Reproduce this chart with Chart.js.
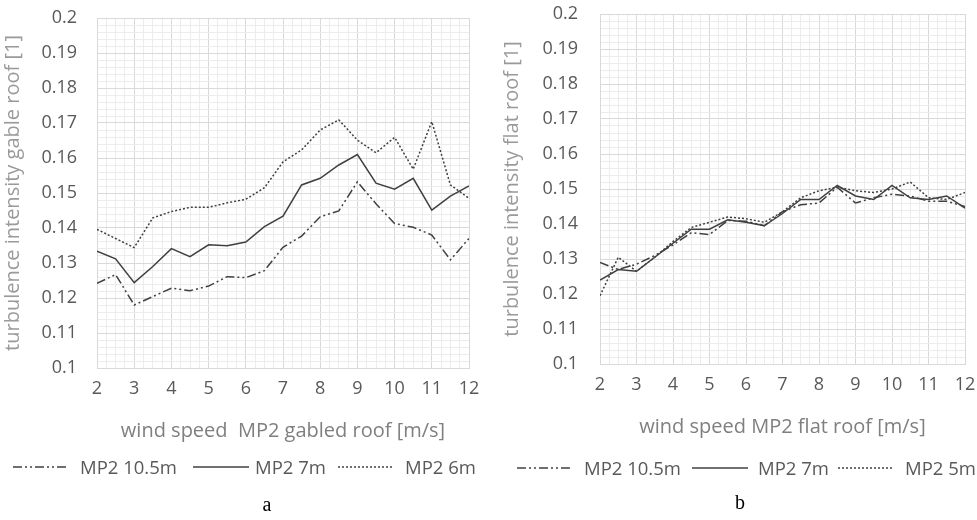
<!DOCTYPE html>
<html>
<head>
<meta charset="utf-8">
<script src="https://cdn.jsdelivr.net/npm/chart.js@4"></script>
<style>
  html, body { margin: 0; padding: 0; overflow: hidden; }
  body { background: #fff; width: 977px; height: 520px; position: relative; }
  .wrap { position: absolute; top: 0; height: 520px; }
  .wrap canvas { position: absolute; left: 0; top: 0; }
  #wrapA { left: 0; width: 488px; }
  #wrapB { left: 495px; width: 482px; }
  .lg-text { position: absolute; font-family: 'Open Sans', sans-serif; font-size: 18.5px; line-height: 20px; color: #595959; white-space: nowrap; }
  .lg-line { position: absolute; display: block; }
</style>
</head>
<body>
<div class="wrap" id="wrapA"><canvas id="chartA" width="488" height="520"></canvas></div>
<div class="wrap" id="wrapB"><canvas id="chartB" width="482" height="520"></canvas></div>
<div id="legendA" style="position:absolute; left:0; top:0;"></div>
<div id="legendB" style="position:absolute; left:0; top:0;"></div>

<script>
  // wind speed bins (m/s)
  const windSpeed = [2, 2.5, 3, 3.5, 4, 4.5, 5, 5.5, 6, 6.5, 7, 7.5, 8, 8.5, 9, 9.5, 10, 10.5, 11, 11.5, 12];

  // (a) gabled roof
  const gableNames = ['MP2 10.5m', 'MP2 7m', 'MP2 6m'];
  const gable105 = [0.1242, 0.1267, 0.1180, 0.1204, 0.1228, 0.1221, 0.1234, 0.1261, 0.1258, 0.1278, 0.1345,
                    0.1377, 0.1432, 0.1449, 0.1532, 0.1469, 0.1413, 0.1402, 0.1380, 0.1309, 0.1370];
  const gable7   = [0.1334, 0.1312, 0.1244, 0.1290, 0.1341, 0.1318, 0.1352, 0.1349, 0.1360, 0.1404, 0.1434,
                    0.1523, 0.1542, 0.1580, 0.1610, 0.1528, 0.1511, 0.1542, 0.1451, 0.1491, 0.1520];
  const gable6   = [0.1396, 0.1370, 0.1344, 0.1429, 0.1447, 0.1459, 0.1459, 0.1472, 0.1482, 0.1515, 0.1589,
                    0.1623, 0.1680, 0.1709, 0.1651, 0.1615, 0.1659, 0.1568, 0.1704, 0.1523, 0.1485];

  // (b) flat roof
  const flatNames = ['MP2 10.5m', 'MP2 7m', 'MP2 5m'];
  const flat105 = [0.1290, 0.1270, 0.1285, 0.1310, 0.1340, 0.1375, 0.1370, 0.1410, 0.1408, 0.1395, 0.1435,
                   0.1455, 0.1460, 0.1505, 0.1460, 0.1475, 0.1485, 0.1480, 0.1465, 0.1465, 0.1450];
  const flat7   = [0.1240, 0.1270, 0.1265, 0.1305, 0.1345, 0.1385, 0.1385, 0.1412, 0.1405, 0.1395, 0.1430,
                   0.1470, 0.1470, 0.1510, 0.1480, 0.1470, 0.1510, 0.1475, 0.1470, 0.1480, 0.1445];
  const flat5   = [0.1195, 0.1305, 0.1265, 0.1305, 0.1350, 0.1390, 0.1405, 0.1420, 0.1415, 0.1405, 0.1435,
                   0.1475, 0.1495, 0.1505, 0.1495, 0.1490, 0.1500, 0.1520, 0.1475, 0.1470, 0.1490];

  const dashes = [[9, 3, 2, 3, 2, 3], [], [2, 2]];
  const major = '#d9d9d9';
  const minor = '#ececec';
  const textGray = '#595959';
  const fam = "'Open Sans', sans-serif";

  function isWhole(v, unit) {
    const r = v / unit;
    return Math.abs(r - Math.round(r)) < 1e-6;
  }

  // panel letter (a / b) under each chart
  const panelCaption = {
    id: 'panelCaption',
    afterDraw(chart, args, opts) {
      const ctx = chart.ctx;
      ctx.save();
      ctx.font = "20px 'Liberation Serif', serif";
      ctx.fillStyle = '#000';
      ctx.textAlign = 'center';
      ctx.textBaseline = 'middle';
      ctx.fillText(opts.text, opts.x, opts.y);
      ctx.restore();
    }
  };

  function buildChart(id, names, series, xTitle, yTitle, box) {
    return new Chart(document.getElementById(id), {
      type: 'line',
      data: {
        datasets: series.map((vals, i) => ({
          label: names[i],
          data: vals.map((v, j) => ({ x: windSpeed[j], y: v })),
          borderColor: '#404040',
          backgroundColor: '#404040',
          borderWidth: 1.5,
          borderDash: dashes[i],
          pointRadius: 0,
          tension: 0,
          fill: false
        }))
      },
      plugins: [panelCaption],
      options: {
        responsive: false,
        animation: false,
        layout: { padding: box.pad },
        plugins: {
          legend: { display: false },
          tooltip: { enabled: false },
          panelCaption: box.caption
        },
        scales: {
          x: {
            type: 'linear',
            min: 2,
            max: 12,
            ticks: {
              stepSize: 0.25,
              autoSkip: false,
              maxRotation: 0,
              padding: 10,
              color: textGray,
              font: { family: fam, size: 18 },
              callback: v => isWhole(v, 1) ? String(v) : ''
            },
            grid: {
              drawTicks: false,
              color: c => (c.tick && isWhole(c.tick.value, 1)) ? major : minor
            },
            border: { color: major },
            title: {
              display: true,
              text: xTitle,
              color: '#7f7f7f',
              font: { family: fam, size: 20 },
              padding: { top: 0, bottom: box.xTitlePad }
            },
            afterFit: s => { s.height = box.xHeight; s.paddingLeft = 0; s.paddingRight = 0; }
          },
          y: {
            min: 0.1,
            max: 0.2,
            ticks: {
              stepSize: 0.002,
              autoSkip: false,
              padding: box.yTickPad,
              color: textGray,
              font: { family: fam, size: 18 },
              callback: v => isWhole(v, 0.01) ? String(parseFloat(v.toFixed(2))) : ''
            },
            grid: {
              drawTicks: false,
              color: c => (c.tick && isWhole(c.tick.value, 0.01)) ? major : minor
            },
            border: { color: major },
            title: {
              display: true,
              text: yTitle,
              color: '#9a9a9a',
              font: { family: fam, size: 20, lineHeight: 0.8 },
              padding: { top: box.yTitlePad, bottom: 0 }
            },
            afterFit: s => { s.width = box.yWidth; s.paddingTop = 0; s.paddingBottom = 0; }
          }
        }
      }
    });
  }

  // legend under each chart, built from the chart's own datasets
  function htmlLegend(chart, hostId, sampleX, textX, midY) {
    const host = document.getElementById(hostId);
    chart.data.datasets.forEach((ds, i) => {
      const svg = document.createElementNS('http://www.w3.org/2000/svg', 'svg');
      svg.setAttribute('class', 'lg-line');
      svg.setAttribute('width', 56);
      svg.setAttribute('height', 10);
      svg.style.left = sampleX[i] + 'px';
      svg.style.top = (midY - 5) + 'px';
      const ln = document.createElementNS('http://www.w3.org/2000/svg', 'line');
      ln.setAttribute('x1', 0); ln.setAttribute('y1', 5);
      ln.setAttribute('x2', 56); ln.setAttribute('y2', 5);
      ln.setAttribute('stroke', ds.borderColor);
      ln.setAttribute('stroke-width', ds.borderWidth);
      if (ds.borderDash.length) ln.setAttribute('stroke-dasharray', ds.borderDash.join(' '));
      svg.appendChild(ln);
      host.appendChild(svg);

      const t = document.createElement('div');
      t.className = 'lg-text';
      t.style.left = textX[i] + 'px';
      t.style.top = (midY - 10) + 'px';
      t.textContent = ds.label;
      host.appendChild(t);
    });
  }

  const chartA = buildChart('chartA', gableNames, [gable105, gable7, gable6],
    'wind speed  MP2 gabled roof [m/s]', 'turbulence intensity gable roof [1]',
    { pad: { top: 18, left: 0, right: 19, bottom: 76 }, xHeight: 76, xTitlePad: 1, yWidth: 97, yTickPad: 20, yTitlePad: 5,
      caption: { text: 'a', x: 267, y: 506 } });

  const chartB = buildChart('chartB', flatNames, [flat105, flat7, flat5],
    'wind speed MP2 flat roof [m/s]', 'turbulence intensity flat roof [1]',
    { pad: { top: 14, left: 9, right: 12, bottom: 76 }, xHeight: 80, xTitlePad: 5, yWidth: 96, yTickPad: 22, yTitlePad: 0,
      caption: { text: 'b', x: 245, y: 504 } });

  htmlLegend(chartA, 'legendA', [13, 193, 338], [80, 255, 405], 467);
  htmlLegend(chartB, 'legendB', [517, 692, 838], [584, 758, 905], 468);
</script>
</body>
</html>
